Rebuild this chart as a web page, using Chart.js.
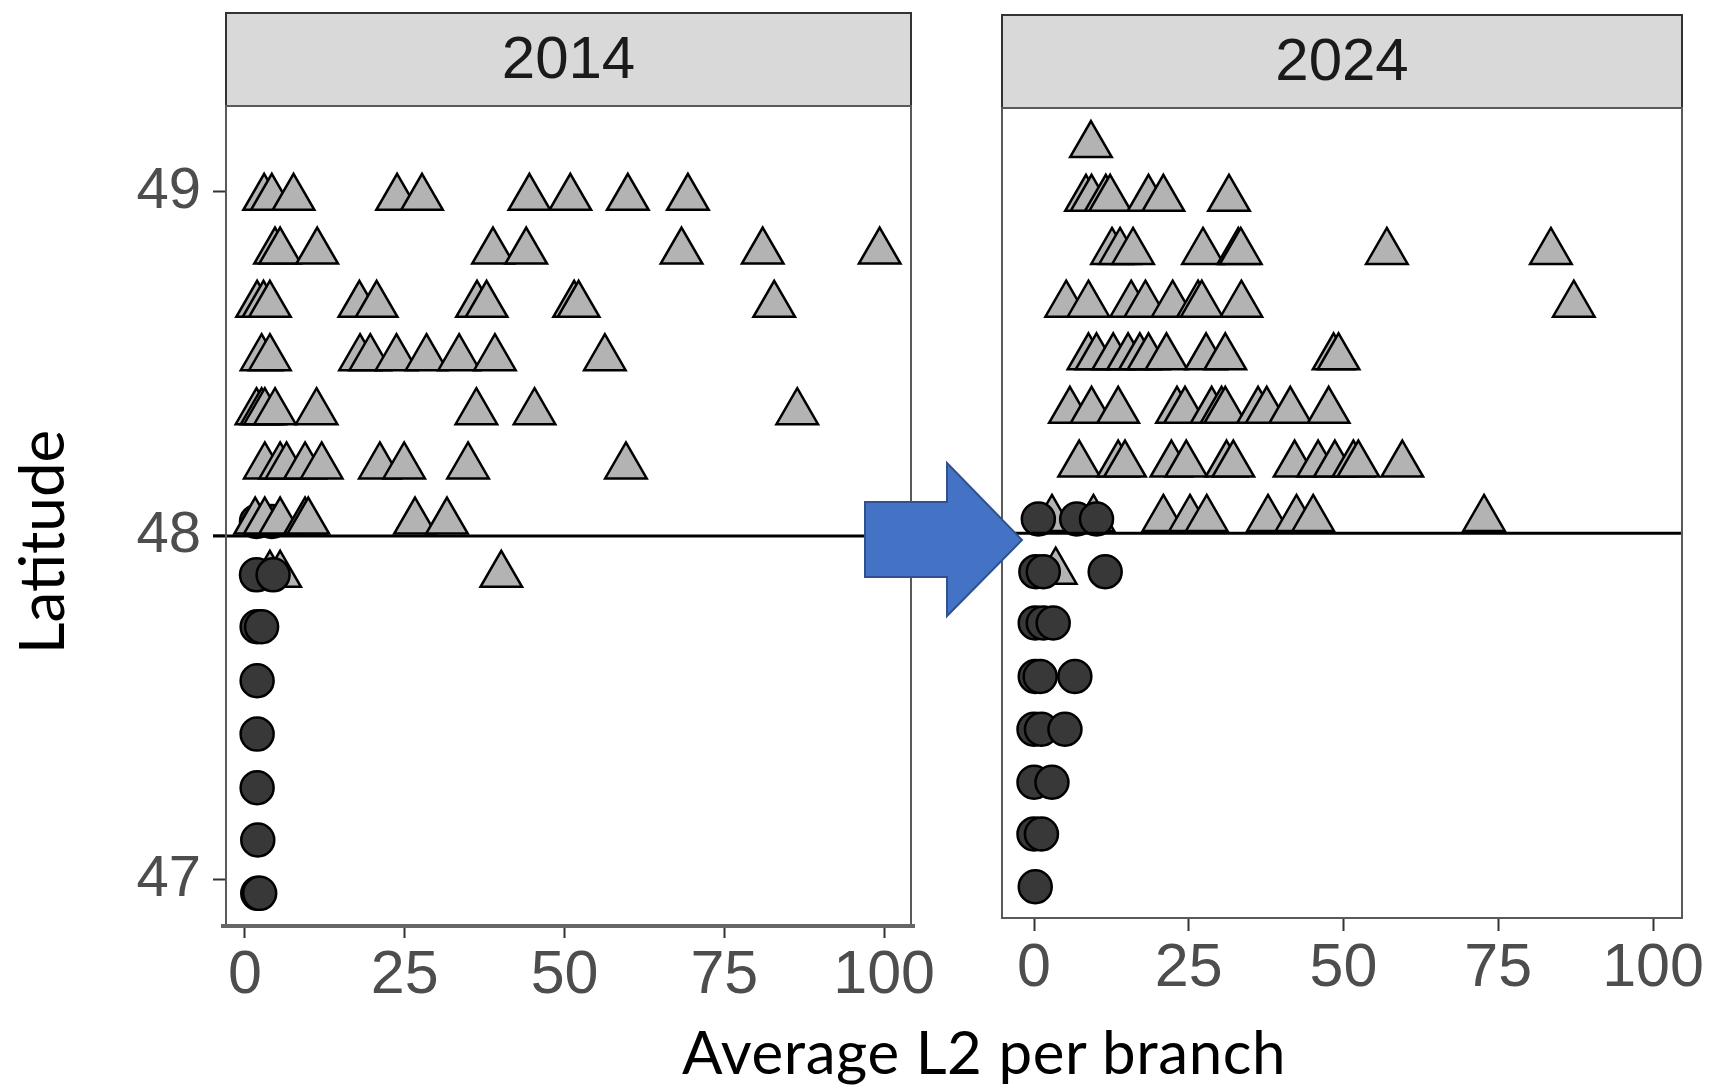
<!DOCTYPE html>
<html>
<head>
<meta charset="utf-8">
<script src="https://cdn.jsdelivr.net/npm/chart.js@4.4.1/dist/chart.umd.min.js"></script>
<style>
  html, body { margin:0; padding:0; background:#ffffff; width:1711px; height:1088px; overflow:hidden; position:relative; }
  #c2014 { position:absolute; left:0; top:0; }
  #c2024 { position:absolute; left:960px; top:0; }
  .axis-title { position:absolute; font-family:Lato, "Open Sans", sans-serif; color:#000; white-space:nowrap; line-height:1; }
  #ytitle { left:40px; top:542px; font-size:62px; transform:translate(-50%,-50%) rotate(-90deg); }
  #xtitle { left:984px; top:1051px; font-size:60px; letter-spacing:0.6px; transform:translate(-50%,-50%); }
  #arrow { position:absolute; left:0; top:0; pointer-events:none; }
</style>
</head>
<body>
<canvas id="c2014" width="960" height="1010"></canvas>
<canvas id="c2024" width="751" height="1010"></canvas>
<div id="ytitle" class="axis-title">Latitude</div>
<div id="xtitle" class="axis-title">Average L2 per branch</div>
<svg id="arrow" width="1711" height="1088">
  <polygon points="865,502 947,502 947,463 1022,540 947,616 947,577 865,577" fill="#4472C4" stroke="#2F528F" stroke-width="2"/>
</svg>
<script>
// ---------------- DATA ----------------
const panelYears = ['2014', '2024'];
// latitude of each row of sites
const latitudes = [49.141, 48.983, 48.827, 48.672, 48.517, 48.360, 48.202, 48.042, 47.887, 47.736, 47.579, 47.424, 47.268, 47.116, 46.961];
// average L2 per branch, one list per latitude row (triangle sites)
const triangles2014 = [
  [],
  [3.0, 4.2, 7.6, 23.8, 27.7, 44.5, 50.9, 59.9, 69.3],
  [4.7, 5.5, 11.3, 38.8, 44.0, 68.3, 81.0, 99.3],
  [1.9, 2.9, 3.9, 17.9, 20.6, 36.3, 37.8, 51.5, 52.2, 82.8],
  [2.6, 3.9, 18.0, 19.6, 23.7, 28.4, 33.5, 39.1, 56.3],
  [1.8, 2.6, 3.1, 4.7, 11.2, 36.2, 45.3, 86.4],
  [3.1, 5.5, 6.5, 9.4, 12.0, 21.1, 24.9, 34.9, 59.6],
  [1.6, 3.1, 5.5, 9.4, 9.9, 26.6, 31.6],
  [3.9, 5.5, 40.1],
  [], [], [], [], [], []
];
// circle sites
const circles2014 = [
  [], [], [], [], [], [], [],
  [1.8, 4.2],
  [1.8, 4.4],
  [1.9, 2.6],
  [1.9],
  [1.9],
  [1.9],
  [2.0],
  [2.0, 2.3]
];
const triangles2024 = [
  [9.2],
  [8.4, 9.3, 11.6, 12.3, 18.5, 20.9, 31.5],
  [12.6, 13.9, 16.0, 27.3, 33.0, 33.4, 57.0, 83.5],
  [5.2, 8.8, 15.7, 18.0, 22.4, 26.5, 27.1, 33.5, 87.2],
  [8.8, 10.1, 12.8, 15.2, 17.1, 18.5, 21.4, 27.8, 30.9, 48.4, 49.2],
  [5.8, 9.3, 13.6, 23.1, 24.4, 28.7, 30.3, 30.9, 36.2, 37.6, 41.4, 47.6],
  [7.3, 13.6, 14.7, 22.2, 24.6, 31.1, 32.2, 42.1, 45.9, 48.6, 51.6, 52.4, 59.5],
  [2.9, 9.6, 20.9, 25.2, 27.9, 37.8, 42.4, 45.1, 72.7],
  [3.5],
  [], [], [], [], [], []
];
const circles2024 = [
  [], [], [], [], [], [], [],
  [0.7, 6.9, 10.1],
  [0.3, 1.5, 11.5],
  [0.2, 1.5, 3.1],
  [0.2, 1.0, 6.6],
  [0.0, 1.2, 5.0],
  [0.0, 2.9],
  [0.0, 1.2],
  [0.2]
];
const xTickValues = [0, 25, 50, 75, 100];
const yTickValues = [47, 48, 49];
const thresholdLat = 48;

// ---------------- CHART ----------------
Chart.defaults.font.family = '"Liberation Sans", Arial, sans-serif';
Chart.defaults.animation = false;

function toPoints(rows, filter) {
  const pts = [];
  rows.forEach((vals, i) => {
    if (filter && !filter(latitudes[i])) return;
    vals.forEach(v => pts.push({ x: v, y: latitudes[i] }));
  });
  return pts;
}

const panelPlugin = {
  id: 'panel',
  beforeDraw(chart) {
    const ctx = chart.ctx, tb = chart.titleBlock, a = chart.chartArea;
    ctx.save();
    ctx.fillStyle = '#d9d9d9';
    ctx.fillRect(a.left, tb.top, a.right - a.left, a.top - tb.top);
    ctx.strokeStyle = '#333333';
    ctx.lineWidth = 2;
    ctx.strokeRect(a.left, tb.top, a.right - a.left, a.top - tb.top);
    ctx.restore();
  },
  afterDatasetsDraw(chart, args, opts) {
    const ctx = chart.ctx, a = chart.chartArea;
    const y = chart.scales.y.getPixelForValue(thresholdLat);
    ctx.save();
    ctx.strokeStyle = '#000000';
    ctx.lineWidth = 3;
    ctx.beginPath();
    ctx.moveTo(a.left - (opts.lineExtend || 0), y);
    ctx.lineTo(a.right, y);
    ctx.stroke();
    ctx.strokeStyle = '#5a5a5a';
    ctx.lineWidth = 2;
    ctx.strokeRect(a.left, a.top, a.right - a.left, a.bottom - a.top);
    if (opts.axisLine) {
      ctx.strokeStyle = '#666666';
      ctx.lineWidth = 4;
      ctx.beginPath();
      ctx.moveTo(a.left - 5, a.bottom + 1);
      ctx.lineTo(a.right + 4, a.bottom + 1);
      ctx.stroke();
    }
    ctx.restore();
  }
};

function circleDataset(label, data) {
  return {
    label: label,
    data: data,
    pointStyle: 'circle',
    pointRadius: 16.5,
    pointBackgroundColor: '#383838',
    pointBorderColor: '#000000',
    pointBorderWidth: 2.5,
    clip: false
  };
}

function makeChart(canvasId, year, tris, circs, cfg) {
  // datasets with lower index are drawn on top
  const datasets = [];
  if (cfg.northCirclesBelow) {
    datasets.push(circleDataset(year + ' circles', toPoints(circs, lat => lat < thresholdLat)));
  } else {
    datasets.push(circleDataset(year + ' circles', toPoints(circs)));
  }
  datasets.push({
    label: year + ' triangles',
    data: toPoints(tris),
    pointStyle: 'triangle',
    pointRadius: 24,
    pointBackgroundColor: '#b3b3b3',
    pointBorderColor: '#000000',
    pointBorderWidth: 2.5,
    clip: false
  });
  if (cfg.northCirclesBelow) {
    datasets.push(circleDataset(year + ' circles (north)', toPoints(circs, lat => lat >= thresholdLat)));
  }
  return new Chart(document.getElementById(canvasId), {
    type: 'scatter',
    data: { datasets: datasets },
    options: {
      responsive: false,
      devicePixelRatio: 1,
      events: [],
      layout: { padding: cfg.padding },
      plugins: {
        legend: { display: false },
        tooltip: { enabled: false },
        title: {
          display: true,
          text: year,
          fullSize: false,
          color: '#1a1a1a',
          font: { size: 60, weight: 'normal' },
          padding: { top: 12, bottom: 9 }
        },
        panel: { lineExtend: cfg.lineExtend, axisLine: cfg.axisLine }
      },
      scales: {
        x: {
          type: 'linear',
          min: cfg.xMin, max: cfg.xMax,
          afterBuildTicks: s => { s.ticks = xTickValues.map(v => ({ value: v })); },
          afterFit: s => { s.height = cfg.xAxisHeight; },
          border: { display: false },
          grid: { drawOnChartArea: false, drawTicks: true, tickLength: 13, tickColor: '#333333', tickWidth: 2 },
          ticks: { color: '#4d4d4d', font: { size: 61 }, padding: 2, maxRotation: 0, autoSkip: false }
        },
        y: {
          type: 'linear',
          display: cfg.showY,
          min: cfg.yMin, max: cfg.yMax,
          afterBuildTicks: s => { s.ticks = yTickValues.map(v => ({ value: v })); },
          afterFit: s => { s.width = cfg.yAxisWidth; },
          border: { display: false },
          grid: { drawOnChartArea: false, drawTicks: true, tickLength: 13, tickColor: '#333333', tickWidth: 2 },
          ticks: { color: '#4d4d4d', font: { size: 58 }, padding: 12, autoSkip: false }
        }
      }
    },
    plugins: [panelPlugin]
  });
}

makeChart('c2014', panelYears[0], triangles2014, circles2014, {
  padding: { top: 13, left: 0, right: 49, bottom: 0 },
  xMin: -2.97, xMax: 104.2, yMin: 46.869, yMax: 49.25,
  xAxisHeight: 85, yAxisWidth: 226, showY: true, lineExtend: 13, axisLine: true,
  northCirclesBelow: true
});
makeChart('c2024', panelYears[1], triangles2024, circles2024, {
  padding: { top: 15, left: 42, right: 29, bottom: 7 },
  xMin: -5.17, xMax: 104.68, yMin: 46.869, yMax: 49.25,
  xAxisHeight: 85, yAxisWidth: 0, showY: false, lineExtend: 0, axisLine: false,
  northCirclesBelow: false
});
</script>
</body>
</html>
